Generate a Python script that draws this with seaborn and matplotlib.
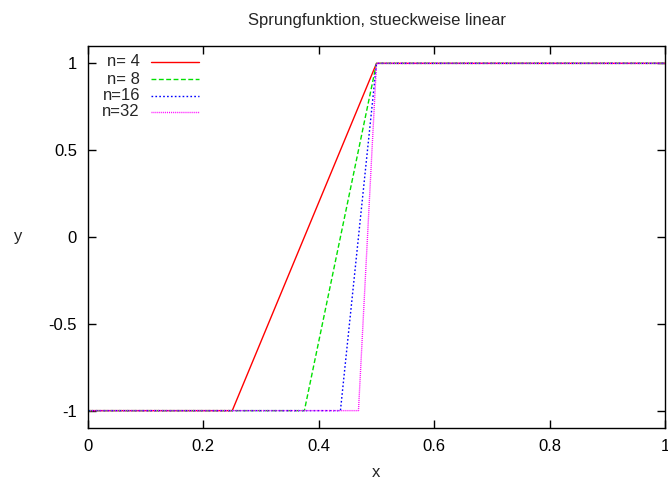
import matplotlib
matplotlib.use("Agg")
import matplotlib.pyplot as plt
import seaborn as sns
import pandas as pd

# Breakpoints of the piecewise-linear interpolants of the step function
x_n4 = [0.0, 0.25, 0.5, 1.0]
y_n4 = [-1.0, -1.0, 1.0, 1.0]
x_n8 = [0.0, 0.375, 0.5, 1.0]
y_n8 = [-1.0, -1.0, 1.0, 1.0]
x_n16 = [0.0, 0.4375, 0.5, 1.0]
y_n16 = [-1.0, -1.0, 1.0, 1.0]
x_n32 = [0.0, 0.46875, 0.5, 1.0]
y_n32 = [-1.0, -1.0, 1.0, 1.0]

labels = ["n= 4", "n= 8", "n=16", "n=32"]
xs = [x_n4, x_n8, x_n16, x_n32]
ys = [y_n4, y_n8, y_n16, y_n32]

x_ticks = [0, 0.2, 0.4, 0.6, 0.8, 1]
x_ticklabels = ["0", "0.2", "0.4", "0.6", "0.8", "1"]
y_ticks = [-1, -0.5, 0, 0.5, 1]
y_ticklabels = ["-1", "-0.5", "0", "0.5", "1"]

frames = [pd.DataFrame({"x": x, "y": y, "n": lab}) for lab, x, y in zip(labels, xs, ys)]
df = pd.concat(frames, ignore_index=True)

sns.set_style("ticks")
plt.rcParams["font.family"] = ["Liberation Sans", "DejaVu Sans"]
FS = 12
plt.rcParams["font.size"] = FS

colors = {"n= 4": "#ff0000", "n= 8": "#00e000", "n=16": "#0000ff", "n=32": "#ff00ff"}
dashes = {"n= 4": "", "n= 8": (3.5, 1.8), "n=16": (1.2, 1.6), "n=32": (0.7, 0.7)}

fig = plt.figure(figsize=(6.68, 4.79), dpi=100)
ax = fig.add_axes([88 / 668, 1 - 428 / 479, 577 / 668, 382 / 479])

sns.lineplot(data=df, x="x", y="y", hue="n", style="n", palette=colors,
             dashes=dashes, linewidth=1.0, ax=ax, legend=False, sort=False,
             estimator=None)

ax.set_xlim(0, 1)
ax.set_ylim(-1.1, 1.1)
ax.set_xticks(x_ticks)
ax.set_xticklabels(x_ticklabels)
ax.set_yticks(y_ticks)
ax.set_yticklabels(y_ticklabels)
ax.tick_params(direction="in", length=6, width=1, top=True, right=True,
               labelsize=FS, colors="black")
ax.tick_params(axis="x", pad=8)
ax.tick_params(axis="y", pad=8)
for s in ax.spines.values():
    s.set_linewidth(1.0)
    s.set_color("black")

ax.set_xlabel("x", fontsize=FS, labelpad=8)
ax.set_ylabel("y", fontsize=FS, rotation=0, labelpad=22, va="center")
ax.set_title("Sprungfunktion, stueckweise linear", fontsize=FS, pad=15)

# Key in gnuplot style: right-aligned label, then line sample
row_y = [62, 79, 96, 112]
for lab, yp in zip(labels, row_y):
    ay = 1 - (yp - 46) / 382
    ax.text((140 - 88) / 577, ay, lab, ha="right", va="center",
            transform=ax.transAxes, fontsize=FS)
    d = dashes[lab]
    ax.plot([(151 - 88) / 577, (199 - 88) / 577], [ay, ay],
            transform=ax.transAxes, color=colors[lab], lw=1.0,
            dashes=d if d else (None, None), linestyle="-" if not d else "--")

fig.savefig("out.png", dpi=100)
